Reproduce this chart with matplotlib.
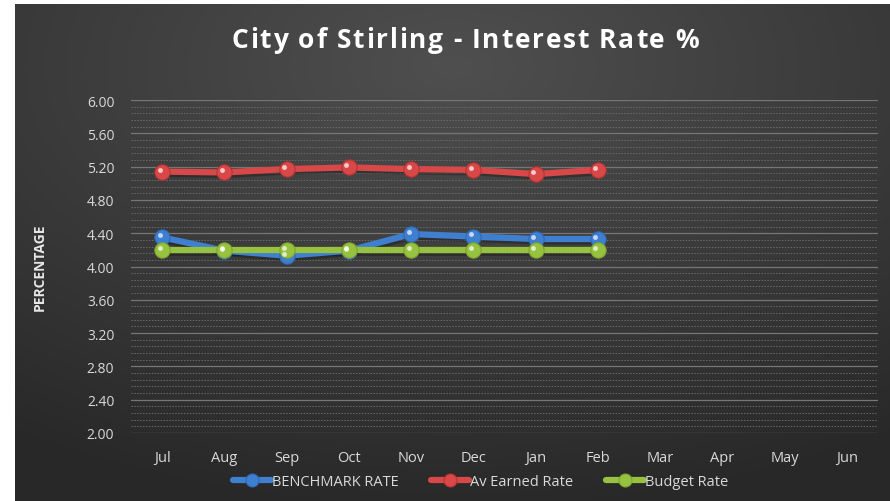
import numpy as np
import matplotlib.pyplot as plt
from matplotlib.ticker import MultipleLocator

months = ['Jul', 'Aug', 'Sep', 'Oct', 'Nov', 'Dec', 'Jan', 'Feb', 'Mar', 'Apr', 'May', 'Jun']
benchmark = [4.35, 4.19, 4.13, 4.19, 4.39, 4.36, 4.33, 4.33]
earned = [5.14, 5.13, 5.17, 5.19, 5.17, 5.16, 5.11, 5.16]
budget = [4.20, 4.20, 4.20, 4.20, 4.20, 4.20, 4.20, 4.20]

series = [
    ('BENCHMARK RATE', benchmark, '#3f7fcf', '#2f68b5'),
    ('Av Earned Rate', earned, '#d84848', '#b83232'),
    ('Budget Rate', budget, '#97c23f', '#7da52c'),
]

title = 'City of Stirling - Interest Rate %'

plt.rcParams['font.family'] = ['Open Sans', 'DejaVu Sans']

fig = plt.figure(figsize=(8.9, 5.02), dpi=100)
fig.patch.set_facecolor('white')

# radial gradient background
bg = fig.add_axes([15 / 890, 0, 875 / 890, 497 / 502])
yy, xx = np.mgrid[-1:1:300j, -1:1:500j]
r = np.sqrt((xx * 0.9) ** 2 + ((yy + 0.75) * 0.9) ** 2)
val = np.clip(1 - r / 1.6, 0, 1)
g = 0.16 + 0.15 * val
img = np.dstack([g, g, g])
bg.imshow(img, aspect='auto', extent=[0, 1, 0, 1], interpolation='bilinear')
bg.set_axis_off()

ax = fig.add_axes([131 / 890, 1 - 434 / 502, 747 / 890, 333 / 502])
ax.set_facecolor('none')
for s in ax.spines.values():
    s.set_visible(False)

ax.set_ylim(2, 6)
ax.set_xlim(-0.5, len(months) - 0.5)
ax.yaxis.set_major_locator(MultipleLocator(0.4))
ax.yaxis.set_minor_locator(MultipleLocator(0.08))
ax.grid(which='major', axis='y', color='#767676', lw=0.9, ls='-')
ax.grid(which='minor', axis='y', color='#6a6a6a', lw=0.7, ls=(0, (1.5, 1.5)))
ax.grid(which='both', axis='x', visible=False)
ax.set_axisbelow(True)
ax.tick_params(which='both', length=0)
ax.tick_params(axis='y', colors='#d9d9d9', labelsize=10, pad=12)
ax.tick_params(axis='x', colors='#d9d9d9', labelsize=10.5, pad=12)
ax.set_xticks(range(len(months)))
ax.set_xticklabels(months)
ax.set_yticks(np.arange(2, 6.01, 0.4))
ax.set_yticklabels(['%.2f' % v for v in np.arange(2, 6.01, 0.4)])
ax.set_ylabel('PERCENTAGE', color='#e8e8e8', fontsize=10, fontweight='bold', labelpad=29)

handles = []
for name, vals, col, edge in series:
    x = np.arange(len(vals))
    # shadow
    ax.plot(x + 0.03, np.array(vals) - 0.025, color='black', alpha=0.25, lw=5, zorder=2,
            solid_capstyle='round')
    h, = ax.plot(x, vals, color=col, lw=4.5, marker='o', ms=11, mfc=col, mec=edge, mew=0.8,
                 zorder=3, label=name, solid_capstyle='round')
    ax.plot(x - 0.04, np.array(vals) + 0.025, ls='none', marker='o', ms=3.5, mfc='white',
            mec='none', alpha=0.7, zorder=4)
    handles.append(h)

leg = ax.legend(handles=handles, loc='upper center', bbox_to_anchor=(0.468, -0.085), ncol=3,
                frameon=False, fontsize=10.5, labelcolor='#d9d9d9', handlelength=2.6,
                columnspacing=2.2, handletextpad=0.1, markerscale=0.85)

# title with letter spacing
renderer = fig.canvas.get_renderer()
spacing = 1.8
pieces = []
for ch in title:
    t = fig.text(0, 1 - 41 / 502, ch, ha='left', va='center', color='white',
                 fontsize=19, fontweight='bold')
    pieces.append(t)
widths = []
for ch, t in zip(title, pieces):
    if ch == ' ':
        widths.append(6.5)
    else:
        widths.append(t.get_window_extent(renderer).width)
total = sum(widths) + spacing * (len(title) - 1)
xpos = 465 - total / 2
for t, w in zip(pieces, widths):
    t.set_x(xpos / 890)
    xpos += w + spacing

fig.savefig('out.png', dpi=100)
